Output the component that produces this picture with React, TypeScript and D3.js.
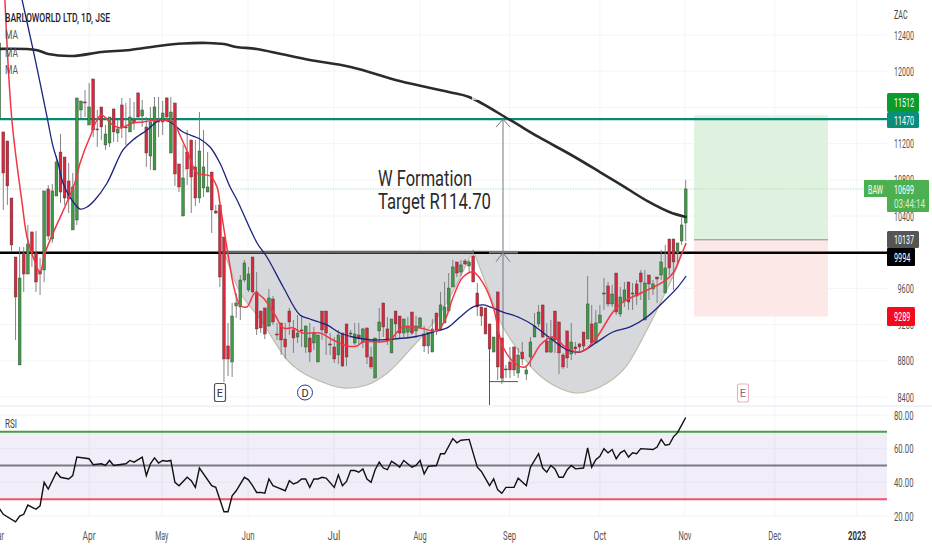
import React from "react";
import * as d3 from "d3";

const opens = [11483,
11329,11229,10599,9947,8754,9991,9759,10224,9991,9793,
9804,10699,10146,10621,11107,11052,10787,10246,10356,11572,
11660,11406,11914,11362,11605,11185,11207,11583,11317,11627,
11384,11329,11461,11759,11505,11384,11063,10909,11461,11439,
11704,11096,11649,10975,10400,11107,11240,10942,10599,10710,
10665,10886,10455,10522,10168,8964,8787,9406,9395,9693,
9583,9947,9561,9350,9384,9185,9483,9096,9218,9041,
9350,9141,9063,9141,8953,9052,8997,8787,9350,9350,
8986,8953,8865,9107,9207,9107,8997,9085,9008,9163,
8842,8610,9130,9439,9152,8887,9350,9295,9107,9118,
9339,9130,9174,9096,8964,8897,9328,9141,9218,9350,
9616,9892,9781,9903,9848,9958,9549,9395,9384,9207,
8897,9561,9052,8710,8787,8953,8665,8897,8654,8842,
9063,9207,9417,9019,8897,9350,9229,8864,9130,8875,
8953,8986,9118,9041,9207,8997,9218,9549,9627,9428,
9770,9317,9461,9671,9549,9649,9770,9251,9748,9594,
9726,9748,9549,10146,10146,9991,10124,10323];

const closes = [12312,
10875,10732,10080,9505,9715,9759,10091,9991,9671,9759,
10677,10179,10677,10997,10665,10599,10588,10721,11704,11671,
11649,11605,11351,11351,11384,11306,11494,11329,11362,11373,
11373,11494,11428,11494,11572,11096,11439,11605,11439,11538,
11494,11549,10864,10721,10820,10920,10831,10599,11118,10942,
10721,10467,10433,9726,8820,8820,9295,9439,9693,9881,
9759,9561,9152,9163,9096,9494,9229,9085,9030,8953,
9229,9052,9107,9130,9185,8897,9107,9085,9141,9107,
8975,8820,9085,8743,8842,9096,9096,9052,9152,8842,
8732,9052,9229,9174,9019,9262,9207,9107,9262,9174,
9107,9185,9273,8964,9118,9152,9141,9417,9395,9604,
9837,9770,9859,9870,9892,9671,9395,9295,9096,8931,
9063,8732,8610,8699,8699,8699,8864,8820,8699,9008,
9185,9339,9063,8897,9063,9030,8887,8732,8831,9008,
8931,8953,8964,9428,8997,9218,9306,9538,9428,9538,
9339,9505,9583,9450,9538,9516,9671,9660,9649,9649,
9704,9892,9826,9826,9892,10102,10301,10699];

const highs = [12312,
11329,11229,10599,9947,10058,10058,10301,10224,10235,9936,
10677,10743,10754,11063,11306,11052,10986,10875,11704,11671,
11792,11870,11914,11572,11605,11406,11494,11583,11461,11704,
11649,11704,11660,11770,11682,11494,11605,11715,11715,11671,
11715,11715,11649,10975,11185,11351,11240,11240,11549,11351,
11107,10886,10522,10522,10168,9218,9439,9549,9748,9914,
9837,9947,9781,9350,9384,9594,9516,9218,9218,9218,
9384,9251,9306,9306,9185,9218,9174,9085,9350,9350,
9107,9063,9141,9107,9207,9141,9218,9218,9163,9163,
8953,9052,9384,9439,9284,9262,9350,9295,9262,9284,
9339,9295,9284,9185,9118,9262,9328,9561,9671,9770,
9914,9892,9914,9925,9914,10025,9660,9395,9384,9207,
9063,9561,9052,8754,8953,8953,8942,9008,8754,9063,
9328,9417,9417,9218,9251,9350,9229,8887,9130,9218,
9008,8997,9118,9737,9417,9362,9417,9715,9671,9638,
9770,9616,9671,9671,9660,9693,9804,9804,9748,9693,
9726,10025,10080,10146,10146,10102,10378,10798];

const lows = [11483,
10467,10522,10003,9030,8754,9561,9759,9837,9561,9527,
9671,10135,10102,10621,10544,10522,10433,10246,10301,11483,
11494,11406,11273,11163,11240,11130,11163,11218,11218,11262,
11185,11329,11351,11461,11384,10942,10909,10909,11273,11295,
11461,11096,10732,10665,10400,10743,10433,10511,10544,10610,
10665,10212,10422,9616,8566,8632,8621,9273,9251,9671,
9561,9549,9085,9107,9041,9174,9196,9030,8865,8820,
9085,8887,8997,8953,8887,8787,8920,8787,9030,8865,
8865,8776,8765,8732,8743,9052,8975,8975,8942,8765,
8710,8610,8997,9063,8975,8887,9052,9052,9063,9052,
9085,9052,9163,8897,8875,8897,9085,9141,9218,9350,
9616,9726,9737,9859,9770,9671,9295,9185,9096,8931,
8897,8588,8544,8610,8610,8632,8610,8754,8588,8732,
9063,9174,9052,8887,8887,8887,8654,8710,8721,8809,
8865,8887,8920,9041,8997,8997,9218,9362,9395,9395,
9306,9284,9395,9362,9362,9417,9472,9251,9472,9527,
9439,9693,9549,9748,9583,9881,10080,10124];

const redBars = [1.4,3.1,5.6,6.8,8.3,10,11.2,13.2,16.6,18.5,19.8,22.2,24.9,27.8,29.6,32.7,35.2,38.6,42.5,44.2,46.2,48.4,51.6,53.3,54,55.3,56.5,57.2,58.9,60.6,62.6,64.6,67.5,69.5,71.9,74.3,78.5,81.7,85.1,87.6,89,93.2,95.6,98.8,103,107.1,109.1,111.1,113.5,116,118.4,120.9,123.3,126.7,128.7,130.6,132.4,135.5,138.5,141.4,143.4,146.3,150.2,152.7,157.6,162.5,164.9,166.6,168.1];
const redValues = [12787,11461,10544,10168,9947,9781,9991,10212,10555,10765,10986,11273,11516,11406,11373,11428,11439,11461,11439,11295,11096,10875,10842,10721,10544,10168,9837,9660,9417,9395,9549,9494,9306,9163,9163,9107,9107,9030,8964,8964,9008,9008,9030,9174,9163,9130,9251,9505,9726,9781,9660,9395,8953,8754,8732,8842,8975,9063,8953,8897,8920,9063,9339,9450,9560,9671,9770,9936,10102];

const blueBars = [5.6,8.3,10,11.7,13.2,14.4,15.6,17.3,19.8,21.5,23.4,26.4,30.3,32.7,36.2,39.4,41.8,45,49.1,51.6,54,56.5,58.2,63.1,65.5,69.5,73.6,76,80.2,83.4,86.6,91.5,96.4,101.3,106.2,109.6,112.8,116,118.4,120.1,123.3,127.5,130.6,134.8,139,142.1,146.3,150.2,154.4,158.5,162.5,165.9,168.1];
const blueValues = [12787,12235,11870,11494,11163,10986,10765,10610,10477,10500,10577,10765,11130,11240,11351,11461,11439,11328,11251,11163,10986,10721,10577,10102,9947,9616,9306,9262,9196,9107,9063,9030,9041,9063,9118,9163,9284,9395,9417,9395,9339,9273,9196,9052,8920,8897,9008,9118,9174,9284,9450,9605,9737];

const blackBars = [0,9,12,18,25,32,39,45,51,55,58,63,69,76,86,98,110,115,125,132,140,147,153,159,164,168];
const blackValues = [12246,12235,12190,12168,12212,12235,12279,12306,12312,12301,12268,12246,12190,12124,12047,11892,11770,11715,11461,11273,11074,10886,10721,10555,10444,10389];

const rsiBars = [0,1,4,5,6,7,9,10,11,12,14,15,17,18,19,22,23,25,26,27,28,31,32,33,35,36,37,38,39,40,41,42,43,44,46,47,48,49,52,53,55,56,57,58,60,61,62,63,64,65,66,67,68,70,71,72,73,74,75,76,77,78,79,80,82,83,84,85,86,87,88,89,90,91,92,93,94,95,96,97,98,99,101,102,103,104,105,107,108,109,111,112,113,115,117,118,120,121,122,123,124,126,127,129,130,132,133,134,135,136,137,138,139,140,141,143,144,145,146,147,148,149,150,151,152,153,154,155,156,157,160,161,162,163,164,165,166,167,168];
const rsiValues = [24.5,21,16.5,20,21,26.5,24,26,40,36,46,43,42,44,55,54,50.5,51,50,53,50,51,53,52,55,44,51,54.5,51.5,53,52.5,53,40,38,43,41,37,48.5,38,37,22.5,22.5,32,35,43,41.5,38,34,34,33.5,42,38,37,35,41,39,40,42,42,37,42,42,43,42.5,37,44.5,38,40.5,47,47,46,48,42,40,47.5,52,48.5,47.5,52.5,51,49,53,49,50,53,45,49.5,50,57,57,66,63.5,65,65.5,49,46.5,38,42,35.5,33.5,37,37,42.5,38,49,57,48.5,46,50,48,43,43,47.5,50,48,48.5,60.5,49,53.5,55.5,60,57.5,59.5,54,57.5,59,55,57.5,57,60,59.5,61,65.5,62,62.5,67,69.5,74,78.5];

const bowlOneBars = [55,56,59,64,70.5,73.6,77.8,84,90,95,100.5,106.2,110.3,114.5,116];
const bowlOneValues = [9993,9880,9550,9251,8809,8688,8588,8500,8533,8665,8920,9218,9505,9881,10025];
const bowlTwoBars = [116,119.4,123.3,127.5,131.6,136.5,141.4,147,152.7,158.5,162.5,165.9,167.1];
const bowlTwoValues = [10025,9616,9174,8887,8665,8511,8444,8511,8699,9141,9505,9837,9993];

const priceTicks = [12400,12000,11200,10800,10400,9600,9200,8800,8400];
const gridPrices = [12400,12000,11600,11200,10800,10400,10000,9600,9200,8800,8400];
const rsiTicks = [80,60,40,20];
const monthLabels = ["Apr","May","Jun","Jul","Aug","Sep","Oct","Nov","Dec","2023"];
const monthBars = [22,39.8,60.9,81.9,103,124.9,147,167.8,189.8,209.9];

const closeLevel = 10699;
const resistance = 11470;
const neckline = 9994;
const targetTop = 11512;
const entry = 10137;
const stop = 9289;

const W = 932, H = 550, PLOT_R = 887;
const x = d3.scaleLinear().domain([1, 168]).range([3.3, 685.7]);
const y = d3.scaleLinear().domain([8400, 12400]).range([397, 35]);
const yr = d3.scaleLinear().domain([20, 80]).range([516, 415]);

const maLine = (bars: number[], vals: number[]) =>
  d3.line<number>().x((_, i) => x(bars[i])).y((v) => y(v)).curve(d3.curveCatmullRom.alpha(0.5))(vals) as string;

const bowlPath = maLine;

const rsiPath = d3.line<number>().x((_, i) => x(rsiBars[i])).y((v) => yr(v))(rsiValues) as string;

const FONT = "Roboto, 'Noto Sans', sans-serif";

function T(p: any) {
  const { w, ...rest } = p;
  return (
    <text fontFamily={FONT} textLength={w} lengthAdjust="spacingAndGlyphs" {...rest}>
      {p.children}
    </text>
  );
}

function Tag({ top, bottom, fill, label }: any) {
  return (
    <g>
      <rect x={887} y={top} width={32} height={bottom - top} rx={1.5} fill={fill} />
      <T x={894} y={(top + bottom) / 2 + 4.5} w={20} fontSize={13} fill="#fff">{label}</T>
    </g>
  );
}

export default function App() {
  return (
    <svg width={W} height={H} style={{ position: "absolute", left: 0, top: 0, display: "block", background: "#fff" }}>
      <rect width={W} height={H} fill="#fff" />
      {/* grid */}
      {monthBars.map((b) => (
        <g key={b}>
          <line x1={x(b)} x2={x(b)} y1={0} y2={405} stroke="#f3f4f7" />
          <line x1={x(b)} x2={x(b)} y1={407} y2={516} stroke="#f3f4f7" />
        </g>
      ))}
      {gridPrices.map((p) => (
        <line key={p} x1={0} x2={PLOT_R} y1={y(p)} y2={y(p)} stroke="#f3f4f7" />
      ))}
      {[80, 60, 40, 20].map((v) => (
        <line key={v} x1={0} x2={PLOT_R} y1={yr(v)} y2={yr(v)} stroke="#f1f2f6" />
      ))}
      <rect x={0} y={405} width={PLOT_R + 45} height={2.2} fill="#f0f3fa" />

      {/* position box */}
      <rect x={694} y={y(targetTop)} width={134} height={y(entry) - y(targetTop)} fill="#dff2df" />
      <rect x={694} y={y(entry)} width={134} height={y(stop) - y(entry)} fill="#fde8e8" />
      <line x1={694} x2={828} y1={y(entry)} y2={y(entry)} stroke="#8a8a8a" strokeWidth={1} />

      {/* bowls */}
      <path d={bowlPath(bowlOneBars, bowlOneValues)} fill="#d6d8dc" stroke="none" />
      <rect x={x(55)} y={y(10025)} width={x(116) - x(55)} height={y(9993) - y(10025)} fill="#d6d8dc" />
      <path d={bowlPath(bowlTwoBars, bowlTwoValues)} fill="#d6d8dc" stroke="none" />
      <path d={bowlPath(bowlOneBars, bowlOneValues)} fill="none" stroke="#bdbda8" strokeWidth={1.2} />
      <path d={bowlPath(bowlTwoBars, bowlTwoValues)} fill="none" stroke="#bdbda8" strokeWidth={1.2} />

      {/* price lines */}
      <line x1={0} x2={864} y1={y(closeLevel)} y2={y(closeLevel)} stroke="#b9e5bc" strokeWidth={1} strokeDasharray="1.5 1" />
      <line x1={0} x2={PLOT_R} y1={y(resistance)} y2={y(resistance)} stroke="#068a74" strokeWidth={2.4} />
      <line x1={0} x2={PLOT_R} y1={y(neckline)} y2={y(neckline)} stroke="#000" strokeWidth={2.6} />
      <line x1={x(54.5)} x2={x(116)} y1={y(neckline) - 0.5} y2={y(neckline) - 0.5} stroke="#666" strokeWidth={2.6} />
      <line x1={489} x2={518} y1={y(neckline) - 0.5} y2={y(neckline) - 0.5} stroke="#777" strokeWidth={2.4} />

      {/* measure tools */}
      <g stroke="#77797f" strokeWidth={1} fill="none">
        <line x1={503} x2={503} y1={y(11470)} y2={y(8570)} />
        <path d={`M496 ${y(11470) + 8} L503 ${y(11470)} L510 ${y(11470) + 8}`} />
        <path d={`M496 ${y(neckline) + 9} L503 ${y(neckline)} L510 ${y(neckline) + 9}`} />
        <line x1={489.5} x2={489.5} y1={y(9050)} y2={405} stroke="#555" />
        <line x1={489.5} x2={518} y1={y(8570)} y2={y(8570)} stroke="#555" />
      </g>

      {/* candles */}
      {opens.map((o, i) => {
        const c = closes[i];
        const up = c >= o;
        const top = y(Math.max(o, c));
        const bot = y(Math.min(o, c));
        return (
          <g key={i}>
            <line x1={x(i)} x2={x(i)} y1={y(highs[i])} y2={y(lows[i])} stroke="#767676" strokeWidth={0.9} />
            <rect x={x(i) - 1.4} y={top} width={2.8} height={Math.max(bot - top, 0.9)} fill={up ? "#3f9a44" : "#d9283c"} stroke="#3a3a3a" strokeWidth={0.4} />
          </g>
        );
      })}

      {/* moving averages */}
      <path d={maLine(blackBars, blackValues)} fill="none" stroke="#2b2b2b" strokeWidth={2.6} strokeLinecap="round" />
      <rect x={472} y={96} width={9} height={4} fill="#fff" fillOpacity={0.75} />
      <path d={maLine(blueBars, blueValues)} fill="none" stroke="#1a237e" strokeWidth={1.3} />
      <path d={maLine(redBars, redValues)} fill="none" stroke="#f23645" strokeWidth={1.5} />

      {/* annotation text */}
      <T x={378} y={186} w={94} fontSize={22} fill="#2a2a2a">W Formation</T>
      <T x={378} y={209} w={113} fontSize={22} fill="#2a2a2a">Target R114.70</T>

      {/* event markers */}
      <rect x={214.5} y={383.5} width={11} height={18} rx={2} fill="#fff" stroke="#555" strokeWidth={1.2} />
      <T x={220} y={396.5} textAnchor="middle" fontSize={11} fill="#333">E</T>
      <circle cx={305} cy={392.5} r={7.5} fill="#fff" stroke="#2a3a9c" strokeWidth={1} />
      <T x={305} y={396.5} textAnchor="middle" fontSize={11} fill="#333">D</T>
      <rect x={737.5} y={384} width={11} height={18} rx={2} fill="#fff" stroke="#eab0c0" strokeWidth={1.1} />
      <T x={743} y={397} textAnchor="middle" fontSize={11} fill="#8a6a78">E</T>

      {/* legend */}
      <T x={5} y={21.5} w={105} fontSize={13} fontWeight={500} fill="#1e222d">BARLOWORLD LTD, 1D, JSE</T>
      <T x={5} y={38.5} w={13} fontSize={13} fill="#555">MA</T>
      <T x={5} y={56.5} w={13} fontSize={13} fill="#555">MA</T>
      <T x={5} y={73.5} w={13} fontSize={13} fill="#555">MA</T>

      {/* price axis */}
      <T x={894} y={18.5} w={13.5} fontSize={13} fill="#444">ZAC</T>
      {priceTicks.map((p) => (
        <T key={p} x={914} textAnchor="end" y={y(p) + 4.5} w={p >= 10000 ? 20 : 16.5} fontSize={13} fill="#555">{String(p)}</T>
      ))}
      <Tag top={93} bottom={112} fill="#0a9c2b" label={String(targetTop)} />
      <Tag top={112} bottom={128} fill="#088e7b" label={String(resistance)} />
      <Tag top={231} bottom={248} fill="#555555" label={String(entry)} />
      <rect x={887} y={248} width={28} height={18} rx={1} fill="#000" />
      <T x={894} y={261.5} w={16.5} fontSize={13} fill="#fff">{String(neckline)}</T>
      <rect x={887} y={307} width={28} height={19} rx={1.5} fill="#f20a1e" />
      <T x={894} y={321} w={16.5} fontSize={13} fill="#fff">{String(stop)}</T>
      <rect x={864} y={180} width={23} height={17} fill="#4caf50" />
      <T x={868} y={193.5} w={15} fontSize={13} fill="#fff">BAW</T>
      <rect x={887} y={180} width={42} height={32} rx={1} fill="#4caf50" />
      <T x={894} y={193.5} w={20} fontSize={13} fill="#fff">{String(closeLevel)}</T>
      <T x={894} y={207.5} w={31} fontSize={13} fill="#d8f0d9">03:44:14</T>

      {/* RSI pane */}
      <rect x={0} y={yr(70)} width={PLOT_R} height={yr(30) - yr(70)} fill="#7e57c2" fillOpacity={0.1} />
      {monthBars.map((b) => (
        <line key={b} x1={x(b)} x2={x(b)} y1={yr(70)} y2={yr(30)} stroke="#e9e6f3" />
      ))}
      {[60, 40].map((v) => (
        <line key={v} x1={0} x2={PLOT_R} y1={yr(v)} y2={yr(v)} stroke="#e9e6f3" />
      ))}
      <line x1={0} x2={PLOT_R} y1={yr(70)} y2={yr(70)} stroke="#43a047" strokeWidth={2} />
      <line x1={0} x2={PLOT_R} y1={yr(50)} y2={yr(50)} stroke="#787b86" strokeWidth={2} />
      <line x1={0} x2={PLOT_R} y1={yr(30)} y2={yr(30)} stroke="#f0506a" strokeWidth={2} />
      <path d={rsiPath} fill="none" stroke="#111" strokeWidth={1.4} />
      <T x={5} y={428} w={12} fontSize={13} fill="#444">RSI</T>
      {rsiTicks.map((v) => (
        <T key={v} x={894} y={yr(v) + 4.5} w={19.5} fontSize={13} fill="#555">{v.toFixed(2)}</T>
      ))}

      {/* time axis */}
      <T x={-2.5} y={540} textAnchor="middle" w={13} fontSize={13} fill="#555">Mar</T>
      {monthLabels.map((m, i) => (
        <T key={m} x={x(monthBars[i])} y={540} textAnchor="middle" w={m === "2023" ? 18 : 13} fontSize={13} fontWeight={m === "2023" ? 700 : 400} fill={m === "2023" ? "#333" : "#555"}>{m}</T>
      ))}
    </svg>
  );
}
